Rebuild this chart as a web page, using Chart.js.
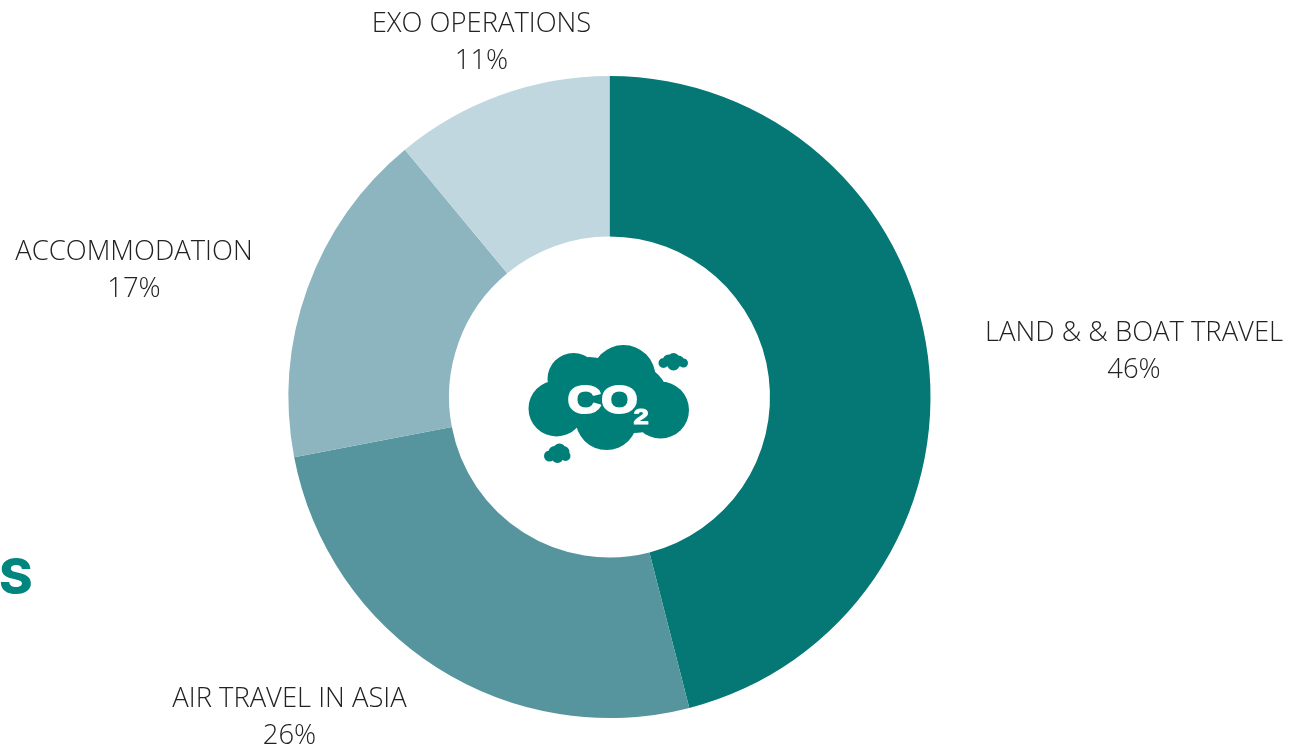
<!DOCTYPE html>
<html>
<head>
<meta charset="utf-8">
<style>
html,body{margin:0;padding:0;background:#fff;overflow:hidden}
#wrap{position:relative;width:1306px;height:747px}
canvas{display:block}
</style>
<script src="https://cdn.jsdelivr.net/npm/chart.js@4"></script>
</head>
<body>
<div id="wrap"><canvas id="c" width="1306" height="747"></canvas></div>
<script>
const categories = ["LAND & & BOAT TRAVEL", "AIR TRAVEL IN ASIA", "ACCOMMODATION", "EXO OPERATIONS"];
const shares = [46, 26, 17, 11];
const sliceColors = ["#057775", "#56959d", "#8cb5bf", "#c1d7e0"];

// Label centres, kept apart from the data (canvas pixels)
const labelAnchors = [[1134, 333], [289.5, 699], [134, 252], [481.5, 24]];
const LINE_GAP = 37.5;
const CLOUD = "#007f79";

function cloud(ctx, parts) {
  ctx.beginPath();
  parts.forEach(([x, y, r]) => { ctx.moveTo(x + r, y); ctx.arc(x, y, r, 0, Math.PI * 2); });
  ctx.fill();
}

const decorations = {
  id: "decorations",
  afterDatasetsDraw(chart) {
    const { ctx } = chart;
    const arc = chart.getDatasetMeta(0).data[0];
    const cx = arc.x, cy = arc.y;
    ctx.save();
    // text labels
    ctx.fillStyle = "#222";
    ctx.font = "300 27.4px 'Open Sans'";
    ctx.textAlign = "center";
    ctx.textBaseline = "middle";
    categories.forEach((name, i) => {
      const [x, y] = labelAnchors[i];
      ctx.fillText(name, x, y);
      ctx.fillText(shares[i] + "%", x, y + LINE_GAP);
    });
    // cut-off heading letter at the left edge
    ctx.save();
    ctx.fillStyle = "#00857f";
    ctx.font = "800 49px Inter";
    ctx.textAlign = "left";
    ctx.translate(-1, 579);
    ctx.scale(1.04, 1);
    ctx.fillText("S", 0, 0);
    ctx.restore();
    // CO2 cloud
    ctx.translate(cx, cy);
    ctx.fillStyle = CLOUD;
    cloud(ctx, [[-53, 11.5, 28], [-36, -18, 26], [14, -20, 32], [51, 13, 28.5], [-3, 22, 31], [0, 0, 38], [-20, -4, 36], [25, 2, 34]]);
    cloud(ctx, [[54, -34, 5], [59, -37, 5.5], [64, -38, 6], [69, -36, 5.5], [74, -34, 4.5], [64, -33, 6.5]]);
    cloud(ctx, [[-60, 59, 5.5], [-55, 55, 6], [-50, 53, 6.5], [-46, 55, 6], [-44, 59, 5], [-52, 60, 6]]);
    ctx.fillStyle = "#fff";
    ctx.strokeStyle = "#fff";
    ctx.lineJoin = "round";
    ctx.textAlign = "left";
    ctx.textBaseline = "alphabetic";
    ctx.save();
    ctx.translate(-42, 15.5);
    ctx.scale(1.2, 1);
    ctx.font = "bold 39px 'Liberation Sans'";
    ctx.lineWidth = 2;
    ctx.fillText("CO", 0, 0);
    ctx.strokeText("CO", 0, 0);
    ctx.restore();
    ctx.save();
    ctx.translate(24, 26.5);
    ctx.scale(1.25, 1);
    ctx.font = "bold 22px 'Liberation Sans'";
    ctx.lineWidth = 1;
    ctx.fillText("2", 0, 0);
    ctx.strokeText("2", 0, 0);
    ctx.restore();
    ctx.restore();
  }
};

new Chart(document.getElementById("c"), {
  type: "doughnut",
  data: {
    labels: categories,
    datasets: [{ data: shares, backgroundColor: sliceColors, borderWidth: 0 }]
  },
  options: {
    responsive: false,
    animation: false,
    cutout: "50%",
    layout: { padding: { left: 288.5, right: 375.5, top: 76, bottom: 29 } },
    plugins: { legend: { display: false }, tooltip: { enabled: false } }
  },
  plugins: [decorations]
});
</script>
</body>
</html>
